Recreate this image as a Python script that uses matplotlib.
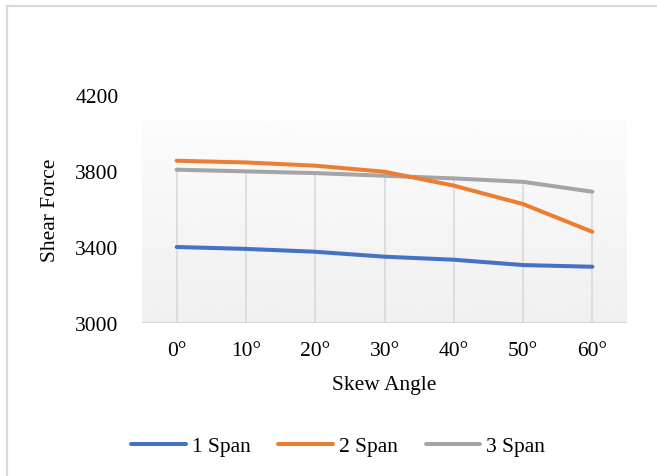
import numpy as np
import matplotlib
matplotlib.use("Agg")
import matplotlib.pyplot as plt

angles = ["0°", "10°", "20°", "30°", "40°", "50°", "60°"]
span1 = [3400, 3390, 3375, 3349, 3333, 3305, 3296]
span2 = [3854, 3845, 3828, 3796, 3723, 3626, 3480]
span3 = [3807, 3798, 3789, 3775, 3761, 3743, 3691]

plt.rcParams['font.family'] = ['Liberation Serif', 'DejaVu Serif']
plt.rcParams['font.size'] = 15.5

fig = plt.figure(figsize=(6.57, 4.77), dpi=100)
ax = fig.add_axes([142/657, 1 - 324/477, 485/657, 228/477])

x = np.arange(len(angles))

# gradient back wall like the excel plot area
grad = np.linspace(0.985, 0.94, 100).reshape(-1, 1)
ax.imshow(grad, cmap="gray", vmin=0, vmax=1, aspect="auto",
          extent=(-0.5, len(angles) - 0.5, 3000, 4068), origin="upper", zorder=0)

# drop lines
ax.vlines(x, 3000, span3, color="#d9d9d9", lw=1.2, zorder=1)
ax.axhline(3000, color="#d9d9d9", lw=1.5, zorder=1)

ax.plot(x, span1, color="#4472C4", lw=2.9, label="1 Span", solid_capstyle="round", zorder=3)
ax.plot(x, span2, color="#ED7D31", lw=2.9, label="2 Span", solid_capstyle="round", zorder=3)
ax.plot(x, span3, color="#A5A5A5", lw=2.9, label="3 Span", solid_capstyle="round", zorder=2)

ax.set_xlim(-0.5, len(angles) - 0.5)
ax.set_ylim(3000, 4200)
ax.set_yticks([3000, 3400, 3800, 4200])
ax.set_xticks(x)
ax.set_xticklabels(angles)
ax.tick_params(length=0)
ax.tick_params(axis="y", pad=17)
ax.tick_params(axis="x", pad=13)
for s in ax.spines.values():
    s.set_visible(False)

ax.set_xlabel("Skew Angle", labelpad=11)
ax.set_ylabel("Shear Force", labelpad=11)

fig.legend(loc="center", bbox_to_anchor=(338/657, 1 - 447/477), ncol=3, frameon=False,
           handlelength=2.55, handletextpad=0.25, columnspacing=1.3)

# outer chart border (only top and left visible)
fig.add_artist(plt.Line2D([7/657, 7/657], [0, 1 - 7/477], color="#d9d9d9", lw=1.6))
fig.add_artist(plt.Line2D([7/657, 1], [1 - 7/477, 1 - 7/477], color="#d9d9d9", lw=1.6))

fig.savefig("out.png", dpi=100)
